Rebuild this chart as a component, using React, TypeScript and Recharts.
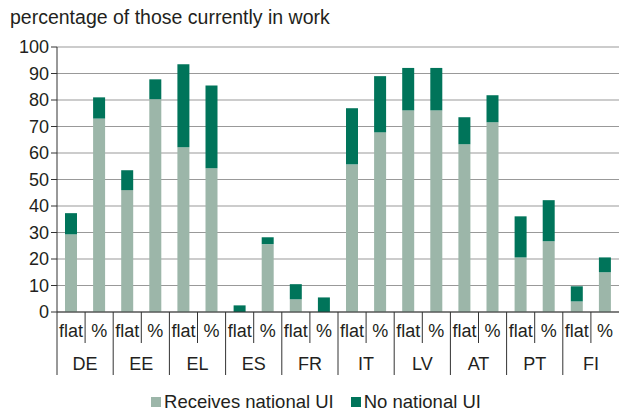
import { BarChart, Bar, XAxis, YAxis, CartesianGrid, Legend } from 'recharts'

const LIGHT = '#9cb6a9'
const DARK = '#00745a'
const INK = '#231f20'
const FONT = '"Liberation Sans", Arial, sans-serif'

const countries = ['DE', 'EE', 'EL', 'ES', 'FR', 'IT', 'LV', 'AT', 'PT', 'FI']
const subLabels = ['flat', '%']
const receives = [29.3, 73, 46, 80.3, 62.2, 54.2, 0, 25.6, 4.8, 0, 55.7, 67.8, 76.1, 76.1, 63.3, 71.6, 20.6, 26.7, 4, 15]
const noNational = [8, 8, 7.5, 7.5, 31.3, 31.3, 2.5, 2.6, 5.7, 5.5, 21.2, 21.2, 16, 16, 10.2, 10.2, 15.5, 15.5, 5.7, 5.6]
const yTicks = [0, 10, 20, 30, 40, 50, 60, 70, 80, 90, 100]

const rows = receives.map((r, i) => ({
  key: countries[Math.floor(i / 2)] + '-' + subLabels[i % 2],
  country: countries[Math.floor(i / 2)],
  sub: subLabels[i % 2],
  receives: r,
  none: noNational[i],
}))

const W = 619
const H = 414
const Y_W = 57
const SLOT = (W - Y_W) / rows.length

if (typeof document !== 'undefined') document.body.style.margin = '0'

function TwoLevelTick({ x, y, index }: any) {
  const d = rows[index]
  const left = x - SLOT / 2
  const first = index % 2 === 0
  return (
    <g>
      <line x1={left} x2={left} y1={y} y2={y + (first ? 63 : 31)} stroke="#333" />
      <text x={x} y={y + 25} textAnchor="middle" fontSize={18} fill={INK} fontFamily={FONT}>{d.sub}</text>
      {first && (
        <text x={x + SLOT / 2} y={y + 58} textAnchor="middle" fontSize={18} fill={INK} fontFamily={FONT}>{d.country}</text>
      )}
    </g>
  )
}

function LegendBox() {
  const items = [
    { label: 'Receives national UI', color: LIGHT },
    { label: 'No national UI', color: DARK },
  ]
  return (
    <div style={{ display: 'flex', justifyContent: 'center', paddingLeft: 30, fontFamily: FONT, fontSize: 18.5, color: INK, lineHeight: '24px' }}>
      {items.map((it) => (
        <span key={it.label} style={{ display: 'flex', alignItems: 'center', marginRight: 17 }}>
          <span style={{ width: 10, height: 10, background: it.color, marginRight: 3, display: 'inline-block' }} />
          {it.label}
        </span>
      ))}
    </div>
  )
}

export default function App() {
  return (
    <div style={{ position: 'relative', width: W, height: H, background: '#fff' }}>
      <div style={{ position: 'absolute', left: 10, top: 8, fontFamily: FONT, fontSize: 19.5, lineHeight: '19px', color: INK }}>
        percentage of those currently in work
      </div>
      <BarChart width={W} height={H} data={rows} margin={{ top: 47, right: 0, left: 0, bottom: 0 }}>
        <CartesianGrid vertical={false} stroke="#999" />
        <XAxis
          dataKey="key"
          interval={0}
          height={78}
          tickSize={0}
          tickMargin={0}
          tickLine={false}
          axisLine={{ stroke: '#333' }}
          tick={<TwoLevelTick />}
        />
        <YAxis
          width={Y_W}
          domain={[0, 100]}
          ticks={yTicks}
          interval={0}
          axisLine={{ stroke: '#333' }}
          tickLine={{ stroke: '#333' }}
          tick={{ fontSize: 18, fill: INK, fontFamily: FONT }}
        />
        <Legend verticalAlign="bottom" height={24} content={<LegendBox />} />
        <Bar dataKey="receives" stackId="a" fill={LIGHT} barSize={12} isAnimationActive={false} />
        <Bar dataKey="none" stackId="a" fill={DARK} barSize={12} isAnimationActive={false} />
      </BarChart>
    </div>
  )
}
